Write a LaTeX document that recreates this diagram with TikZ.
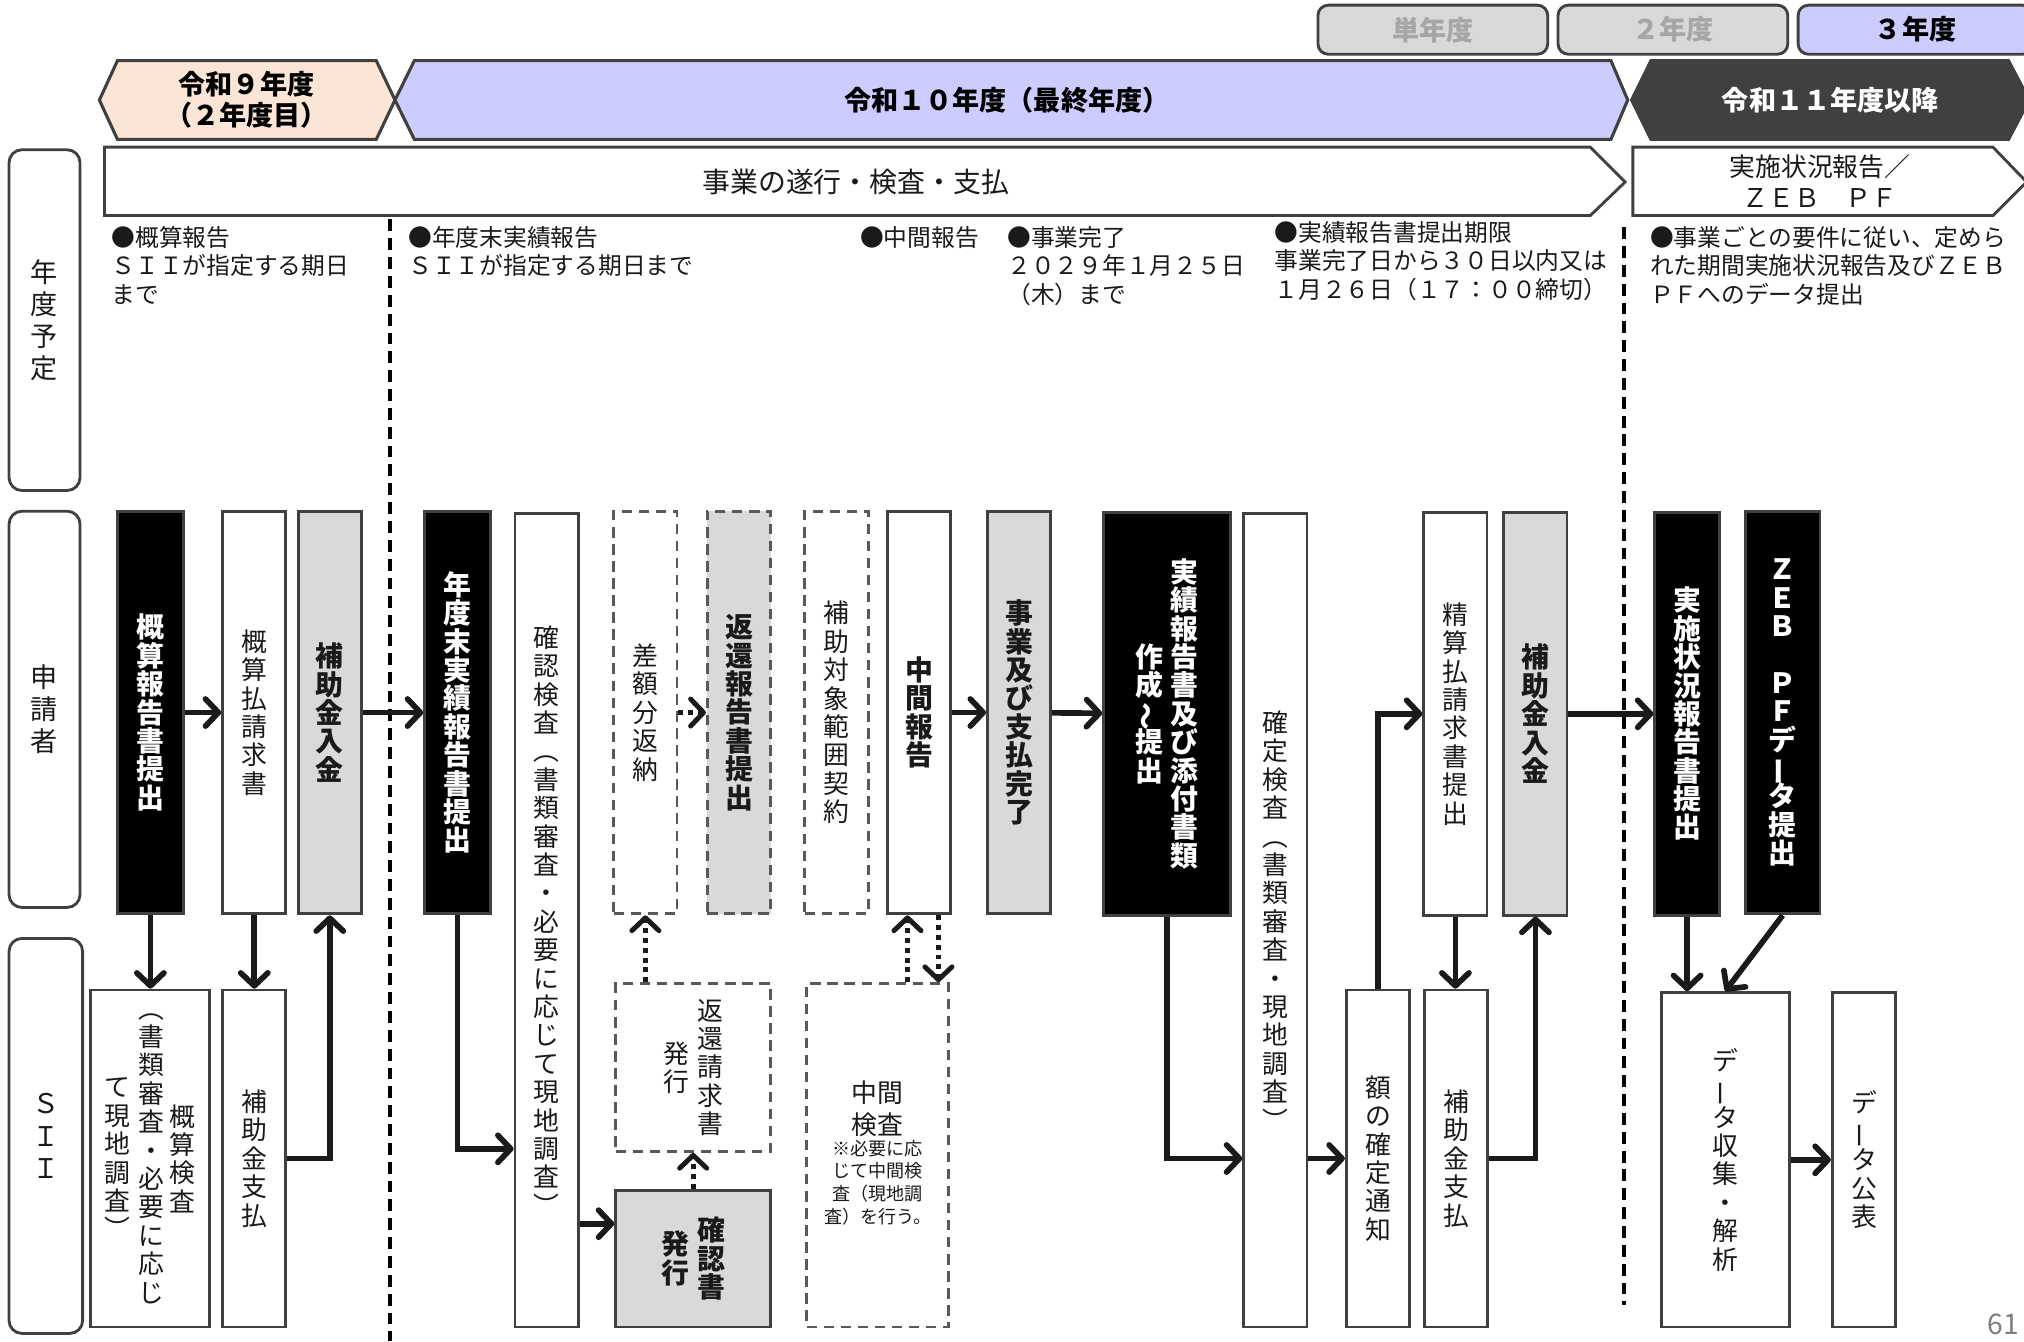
\documentclass[tikz,border=0pt]{standalone}
\usepackage{fontspec}
\setmainfont{Noto Sans CJK JP}
\usepackage{graphicx}
\usetikzlibrary{arrows.meta,positioning}

\definecolor{lav}{HTML}{CCCCFF}
\definecolor{peach}{HTML}{FBE5D6}
\definecolor{darkhd}{HTML}{404040}
\definecolor{grayfill}{HTML}{D9D9D9}
\definecolor{boxline}{HTML}{404040}
\definecolor{dashline}{HTML}{595959}
\definecolor{tabtext}{HTML}{A6A6A6}
\definecolor{ink}{HTML}{1A1A1A}
\definecolor{pagegray}{HTML}{7F7F7F}

\newcommand\boxfont{\fontsize{10}{11}\selectfont}
\newcommand\boxbold{\fontsize{10.8}{11}\selectfont\bfseries}
\newcommand\headfont{\fontsize{10.5}{12}\selectfont\bfseries}
\newcommand\schedfont{\fontsize{9.2}{11}\selectfont}
\newcommand\notefont{\fontsize{7}{8.75}\selectfont}
\newcommand\tate[1]{\rotatebox[origin=c]{90}{#1}}

% vertical writing: one character per line
\ExplSyntaxOn
\NewDocumentCommand \tategaki { O{11pt} m }
  {
    \ensuremath { \vcenter {
      \lineskiplimit = -\maxdimen
      \baselineskip = #1
      \tl_map_inline:nn {#2} { \hbox_to_wd:nn {1em} { \hss ##1 \hss } }
    } }
  }
\ExplSyntaxOff

\begin{document}
\begin{tikzpicture}[x=0.5pt, y=-0.5pt,
  box/.style={draw=boxline, line width=1.1pt, inner sep=0pt, minimum width=24.5pt, minimum height=156pt, font=\boxfont, text=ink},
  whitebox/.style={box, fill=white},
  blackbox/.style={box, fill=black, text=white, font=\boxbold},
  graybox/.style={box, fill=grayfill, font=\boxbold},
  dashbox/.style={box, fill=white, draw=dashline, dash pattern=on 4pt off 2.6pt},
  sii/.style={minimum height=130.5pt},
  rowlabel/.style={draw=boxline, line width=1.1pt, rounded corners=5pt, minimum width=27.5pt, inner sep=0pt, font=\fontsize{10.5}{12}\selectfont, text=ink},
  yeartab/.style={draw=boxline, line width=1.1pt, rounded corners=4pt, fill=grayfill, minimum width=89pt, minimum height=19pt, inner sep=0pt, font=\headfont, text=tabtext},
  phaseshape/.style={draw=boxline, line width=1.2pt},
  banner/.style={draw=boxline, line width=1.1pt, fill=white},
  sched/.style={anchor=north west, align=left, inner sep=0pt, font=\schedfont, text=ink},
  divider/.style={line width=1.6pt, draw=black, dash pattern=on 4.6pt off 2.7pt},
  arr/.style={line width=2.2pt, draw=ink, -{Straight Barb[length=5pt,width=10.5pt,round]}},
  dotarr/.style={arr, line width=1.9pt, dash pattern=on 1.9pt off 1.9pt}]
\useasboundingbox (0,0) rectangle (1568,1039);

% year tabs
\node[yeartab] (tab1) at (1110,23) {単年度};
\node[yeartab] (tab2) at (1296,23) {２年度};
\node[yeartab, fill=lav, text=black, minimum width=91pt] (tab3) at (1484,23) {３年度};

% phases
\draw[phaseshape, fill=peach] (77,77.5) -- (91,47) -- (291.5,47) -- (306,77.5) -- (291.5,108) -- (91,108) -- cycle;
\node[align=center, font=\headfont] (ph9) at (191,77.5) {令和９年度\\（２年度目）};
\draw[phaseshape, fill=lav] (321,47) -- (1248,47) -- (1261,77.5) -- (1248,108) -- (321,108) -- (306,77.5) -- cycle;
\node[font=\headfont] (ph10) at (780,77.5) {令和１０年度（最終年度）};
\draw[phaseshape, fill=darkhd] (1279,47) -- (1556,47) -- (1572,77.5) -- (1556,108) -- (1279,108) -- (1264,77.5) -- cycle;
\node[font=\headfont, text=white] (ph11) at (1418,77.5) {令和１１年度以降};

\draw[banner] (81,114) -- (1232,114) -- (1259,141) -- (1232,167) -- (81,167) -- cycle;
\node[font=\fontsize{10.8}{12}\selectfont, text=ink] (bn1) at (663,141) {事業の遂行・検査・支払};
\draw[banner] (1265,114) -- (1544,114) -- (1570,141) -- (1544,167) -- (1265,167) -- cycle;
\node[align=center, font=\fontsize{10}{12}\selectfont, text=ink] (bn2) at (1410,140) {実施状況報告／\\ＺＥＢ　ＰＦ};

% row labels
\node[rowlabel, minimum height=132pt] (lbY) at (34.5,248) {\tategaki[12.5pt]{年度予定}};
\node[rowlabel, minimum height=153.5pt] (lbA) at (34.5,549.5) {\tategaki[12.5pt]{申請者}};
\node[rowlabel, minimum height=153pt, minimum width=28.5pt] (lbS) at (35.5,880) {\tategaki[12.5pt]{ＳＩＩ}};

% schedule
\node[sched] (sc1) at (86,175) {●概算報告\\ＳＩＩが指定する期日\\まで};
\node[sched] (sc2) at (316,175) {●年度末実績報告\\ＳＩＩが指定する期日まで};
\node[sched] (sc3) at (666,175) {●中間報告};
\node[sched] (sc4) at (780,175) {●事業完了\\２０２９年１月２５日\\（木）まで};
\node[sched] (sc5) at (987,171) {●実績報告書提出期限\\事業完了日から３０日以内又は\\１月２６日（１７：００締切）};
\node[sched] (sc6) at (1278,175) {●事業ごとの要件に従い、定めら\\れた期間実施状況報告及びＺＥＢ\\ＰＦへのデータ提出};

\draw[divider] (302,170) -- (302,1039);
\draw[divider] (1258,176) -- (1258,1011);

% applicant row
\node[blackbox, minimum width=25.5pt] (gaisan) at (116.5,552) {\tategaki{概算報告書提出}};
\node[whitebox] (gaiseikyu) at (197,552) {\tategaki{概算払請求書}};
\node[graybox] (nyukin1) at (255.5,552) {\tategaki{補助金入金}};
\node[blackbox, minimum width=25.5pt] (nendomatsu) at (354.5,552) {\tategaki{年度末実績報告書提出}};
\node[whitebox, minimum height=315pt] (kakunin) at (423.5,713) {\tategaki{確認検査︵書類審査・必要に応じて現地調査︶}};
\node[dashbox] (sagaku) at (500,552) {\tategaki{差額分返納}};
\node[dashbox, fill=grayfill, font=\boxbold] (henkanhoukoku) at (572.5,552) {\tategaki{返還報告書提出}};
\node[dashbox] (keiyaku) at (648,552) {\tategaki{補助対象範囲契約}};
\node[whitebox, font=\boxbold] (chukan) at (712,552) {\tategaki{中間報告}};
\node[graybox] (kanryo) at (789.5,552) {\tategaki{事業及び支払完了}};
\node[blackbox, minimum width=49pt] (jisseki) at (904,553) {\tategaki{作成{\tate{～}}提出}\hspace{3pt}\tategaki{実績報告書及び添付書類}};
\node[whitebox, minimum height=315pt] (kakutei) at (988,713) {\tategaki{確定検査︵書類審査・現地調査︶}};
\node[whitebox] (seisan) at (1127.5,553) {\tategaki{精算払請求書提出}};
\node[graybox] (nyukin2) at (1189.5,553) {\tategaki{補助金入金}};
\node[blackbox, minimum width=25pt] (jisshi) at (1307,553) {\tategaki{実施状況報告書提出}};
\node[blackbox, minimum width=29pt] (zebpf) at (1381,552) {\tategaki{ＺＥＢ　ＰＦデ{\tate{ー}}タ提出}};

% SII row
\node[whitebox, sii, minimum width=46pt] (gaisankensa) at (116,897.5) {\tategaki{て現地調査︶}\hspace{3pt}\tategaki{︵書類審査・必要に応じ}\hspace{2pt}\tategaki{概算検査}};
\node[whitebox, sii] (shiharai1) at (197,897.5) {\tategaki{補助金支払}};
\node[dashbox, minimum width=60pt, minimum height=65pt] (henkanseikyu) at (537,827) {\tategaki{発行}\hspace{3pt}\tategaki{返還請求書}};
\node[graybox, minimum width=60pt, minimum height=53pt] (kakuninsho) at (537,975) {\tategaki{発行}\hspace{3pt}\tategaki{確認書}};
\node[dashbox, align=center, minimum width=55pt, minimum height=133pt, font=\fontsize{10}{12.5}\selectfont] (chukankensa) at (680,895)
  {中間\\検査\\\notefont\renewcommand\arraystretch{1}\begin{tabular}{@{}c@{}}※必要に応\\じて中間検\\査（現地調\\査）を行う。\end{tabular}};
\node[whitebox, sii] (kakuteitsuchi) at (1067.5,897.5) {\tategaki{額の確定通知}};
\node[whitebox, sii] (shiharai2) at (1128,897.5) {\tategaki{補助金支払}};
\node[whitebox, minimum width=49.5pt, minimum height=129.5pt] (shushu) at (1336.5,898.5) {\tategaki{デ{\tate{ー}}タ収集・解析}};
\node[whitebox, minimum height=129.5pt] (kohyo) at (1444,898.5) {\tategaki{デ{\tate{ー}}タ公表}};

\node[text=pagegray, font=\fontsize{11}{13}\selectfont] (pageno) at (1552,1026) {61};

% connectors
\coordinate (lvK) at (0,890);
\coordinate (lvC) at (0,948);
\coordinate (m1) at (703,0);
\coordinate (m2) at (727,0);

\draw[arr] (gaisan) -- (gaiseikyu);
\draw[arr] (gaisan.south) -- (gaisan.south |- gaisankensa.north);
\draw[arr] (gaiseikyu) -- (shiharai1);
\draw[arr] (shiharai1.east) -| (nyukin1.south);
\draw[arr] (nyukin1) -- (nendomatsu);
\draw[arr] (nendomatsu.south) |- (kakunin.west |- lvK);
\draw[arr] (kakunin.east |- lvC) -- (kakuninsho.west |- lvC);
\draw[dotarr] (kakuninsho.north) -- (henkanseikyu.south);
\draw[dotarr] (sagaku.south |- henkanseikyu.north) -- (sagaku.south);
\draw[dotarr] (sagaku) -- (henkanhoukoku);
\draw[dotarr] (m1 |- chukankensa.north) -- (m1 |- chukan.south);
\draw[dotarr] (m2 |- chukan.south) -- (m2 |- chukankensa.north);
\draw[arr] (chukan) -- (kanryo);
\draw[arr] (kanryo) -- (jisseki);
\draw[arr] (jisseki.south) |- (kakutei.west |- kakuteitsuchi.west);
\draw[arr] (kakutei.east |- kakuteitsuchi.west) -- (kakuteitsuchi.west);
\draw[arr] (kakuteitsuchi.north) |- (seisan.west);
\draw[arr] (seisan.south) -- (seisan.south |- shiharai2.north);
\draw[arr] (shiharai2.east) -| (nyukin2.south);
\draw[arr] (nyukin2) -- (jisshi);
\draw[arr] (jisshi.south) -- (jisshi.south |- shushu.north);
\draw[arr] (zebpf.south) -- (shushu.north);
\draw[arr] (shushu) -- (kohyo);
\end{tikzpicture}
\end{document}
